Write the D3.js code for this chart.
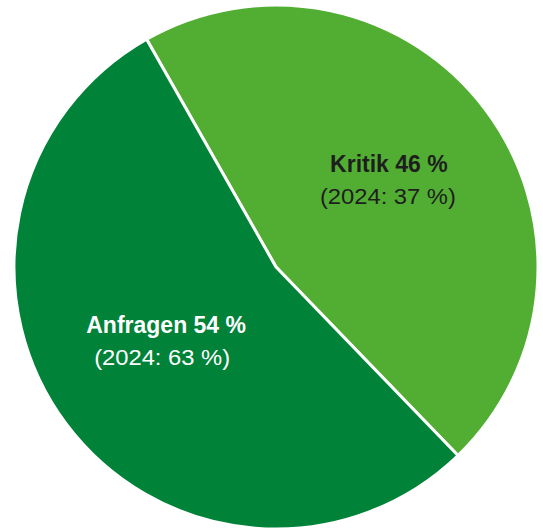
<!DOCTYPE html>
<html>
<head>
<meta charset="utf-8">
<script src="https://cdn.jsdelivr.net/npm/d3@7"></script>
<style>
  html, body { margin: 0; padding: 0; background: #ffffff; }
  svg { display: block; }
  text { font-family: "Liberation Sans", Arial, sans-serif; }
</style>
</head>
<body>
<div id="chart"></div>
<script>
// Share of submissions by type (percent), with prior-year comparison
const categories = ["Kritik", "Anfragen"];
const shares = [46, 54];
const sharesPrev = [37, 63];
const prevYear = "2024";
const colors = ["#52ae32", "#008238"];
const labelColors = ["#1e1e1e", "#ffffff"];

const width = 543, height = 530;
const cx = 276, cy = 267, radius = 262;

const svg = d3.select("#chart").append("svg")
  .attr("width", width)
  .attr("height", height);

const g = svg.append("g").attr("transform", `translate(${cx},${cy})`);

// First slice starts a little left of twelve o'clock
const startAngle = -29.6 * Math.PI / 180;

const pie = d3.pie()
  .sort(null)
  .value(d => d.value)
  .startAngle(startAngle)
  .endAngle(startAngle + 2 * Math.PI);

const data = categories.map((c, i) => ({
  name: c, value: shares[i], prev: sharesPrev[i],
  color: colors[i], labelColor: labelColors[i]
}));

const arcs = pie(data);
const arc = d3.arc().innerRadius(0).outerRadius(radius);

g.selectAll("path.slice")
  .data(arcs)
  .join("path")
  .attr("class", "slice")
  .attr("d", arc)
  .attr("fill", d => d.data.color)
  .attr("stroke", "#ffffff")
  .attr("stroke-width", 3)
  .attr("stroke-linejoin", "round");

// Labels placed inside each slice, nudged from the centroid
const labelArc = d3.arc().innerRadius(radius * 0.5).outerRadius(radius * 0.5);
const labelOffsets = [[8, -17], [-5, -12.5]];
const subOffsetX = [-1, -4];

const labels = g.selectAll("g.label")
  .data(arcs)
  .join("g")
  .attr("class", "label")
  .attr("transform", (d, i) => {
    const [x, y] = labelArc.centroid(d);
    return `translate(${x + labelOffsets[i][0]},${y + labelOffsets[i][1]})`;
  });

labels.append("text")
  .attr("text-anchor", "middle")
  .attr("font-size", 23)
  .attr("font-weight", "bold")
  .attr("fill", d => d.data.labelColor)
  .text(d => `${d.data.name} ${d.data.value} %`);

labels.append("text")
  .attr("text-anchor", "middle")
  .attr("transform", (d, i) => `translate(${subOffsetX[i]},32) scale(1.08,1)`)
  .attr("font-size", 22)
  .attr("fill", d => d.data.labelColor)
  .text(d => `(${prevYear}: ${d.data.prev} %)`);
</script>
</body>
</html>
